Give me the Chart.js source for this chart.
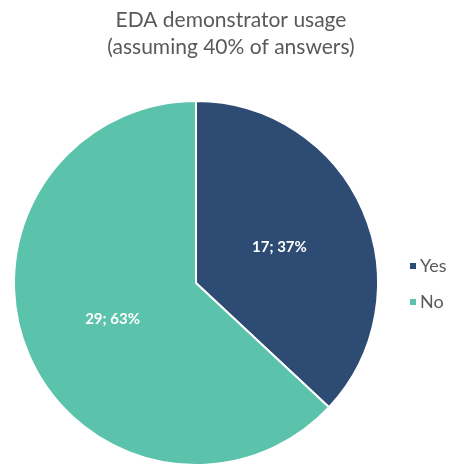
<!DOCTYPE html>
<html>
<head>
<meta charset="utf-8">
<script src="https://cdn.jsdelivr.net/npm/chart.js@4/dist/chart.umd.min.js"></script>
<style>
  html, body { margin: 0; padding: 0; background: #fff; overflow: hidden; }
  #wrap { width: 451px; height: 470px; }
</style>
</head>
<body>
<div id="wrap"><canvas id="pieChart" width="451" height="470"></canvas></div>
<script>
const titleLines = ['EDA demonstrator usage', '(assuming 40% of answers)'];
const categories = ['Yes', 'No'];
const counts = [17, 29];
const sliceColors = ['#2D4B73', '#5BC3AB'];

// title centred over the whole picture, not just the pie
const topTitle = {
    id: 'topTitle',
    afterDraw(chart) {
        const ctx = chart.ctx;
        ctx.save();
        ctx.fillStyle = '#595959';
        ctx.font = '21px Lato';
        ctx.textAlign = 'center';
        ctx.textBaseline = 'middle';
        titleLines.forEach((line, i) => ctx.fillText(line, 231, 20 + i * 27));
        ctx.restore();
    }
};

// labels inside slices: "count; percent"
const sliceLabels = {
    id: 'sliceLabels',
    afterDatasetsDraw(chart) {
        const ctx = chart.ctx;
        const data = chart.data.datasets[0].data;
        const total = data.reduce((a, b) => a + b, 0);
        chart.getDatasetMeta(0).data.forEach((arc, i) => {
            const p = arc.tooltipPosition();
            const pct = Math.round(data[i] / total * 100);
            ctx.save();
            ctx.fillStyle = '#ffffff';
            ctx.font = 'bold 15px Lato';
            ctx.textAlign = 'center';
            ctx.textBaseline = 'middle';
            ctx.fillText(data[i] + '; ' + pct + '%', p.x, p.y);
            ctx.restore();
        });
    }
};

// legend at the right, small squares
const sideLegend = {
    id: 'sideLegend',
    afterDraw(chart) {
        const ctx = chart.ctx;
        const colors = chart.data.datasets[0].backgroundColor;
        const ys = [266, 302];
        ctx.save();
        chart.data.labels.forEach((lbl, i) => {
            ctx.fillStyle = colors[i];
            ctx.fillRect(410, ys[i] - 3, 6, 6);
            ctx.fillStyle = '#595959';
            ctx.font = '18px Lato';
            ctx.textAlign = 'left';
            ctx.textBaseline = 'middle';
            ctx.fillText(lbl, 420, ys[i]);
        });
        ctx.restore();
    }
};

new Chart(document.getElementById('pieChart').getContext('2d'), {
    type: 'pie',
    data: {
        labels: categories,
        datasets: [{
            data: counts,
            backgroundColor: sliceColors,
            borderColor: '#ffffff',
            borderWidth: 2
        }]
    },
    options: {
        responsive: false,
        animation: false,
        layout: { padding: { left: 13, right: 72, top: 100, bottom: 4 } },
        plugins: {
            legend: { display: false },
            tooltip: { enabled: false },
            title: { display: false }
        }
    },
    plugins: [sliceLabels, sideLegend, topTitle]
});
</script>
</body>
</html>
